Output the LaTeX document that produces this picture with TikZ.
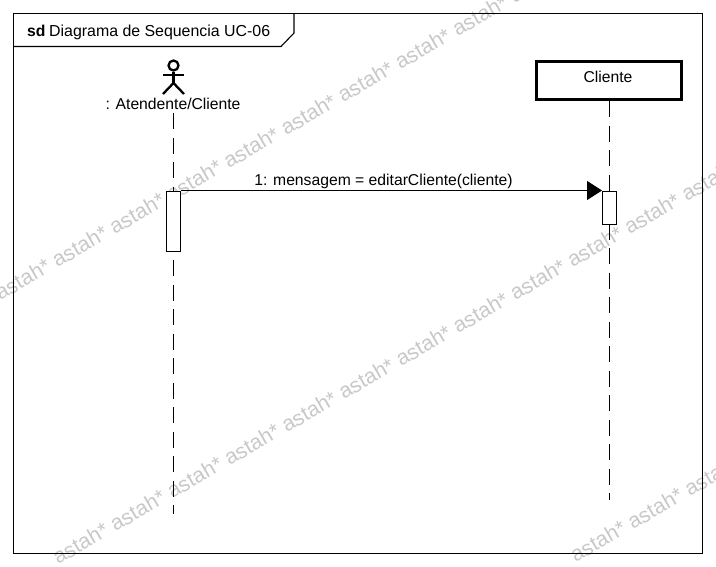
\documentclass[tikz,border=0pt]{standalone}
\usepackage{xcolor}
\usepackage{fontspec}
\setmainfont{Liberation Sans}
\definecolor{wmgray}{HTML}{C8C8C8}
\usepackage{tikz}
\usetikzlibrary{positioning,arrows.meta}

\newcommand{\wmtext}{astah* astah* astah* astah* astah* astah* astah* astah* astah* astah* astah* astah*}

\begin{document}
\begin{tikzpicture}[x=1pt,y=-1pt,
  frame/.style={draw=black,line width=1.1pt,inner sep=0pt,minimum width=689pt,minimum height=540pt},
  wmark/.style={text=wmgray,font=\fontsize{21.2}{22}\selectfont,rotate=30,inner sep=0pt,anchor=base west},
  lbl/.style={font=\fontsize{15.7}{18}\selectfont,inner sep=0pt},
  objbox/.style={draw=black,line width=3pt,fill=white,minimum width=145pt,minimum height=38pt,inner sep=0pt},
  act/.style={draw=black,line width=1pt,fill=white,minimum width=14pt,inner sep=0pt},
  life/.style={line width=1.2pt,dash pattern=on 16pt off 8.5pt},
  stick/.style={line width=2.3pt},
  msg/.style={-{Triangle[length=15pt,width=19pt]},line width=1.1pt}]
\useasboundingbox (0,0) rectangle (716,566);
% watermark
\node[wmark] (band1) at (-57,334) {\wmtext};
\node[wmark] (band2) at (58,565) {\wmtext};
\node[wmark] (band3) at (575.5,563) {astah* astah* astah*};
% frame
\node[frame] (fr) at (358,283.5) {};
\coordinate (tabtop) at (294,13.5);
\coordinate (tabmid) at (294,33);
\coordinate (tabcut) at (281,46.5);
\coordinate (tableft) at (13.5,46.5);
\draw[line width=1.1pt] (tabtop) -- (tabmid) -- (tabcut) -- (tableft);
\node[lbl,anchor=base west] (sd) at (27,36) {\textbf{sd}};
\node[lbl,anchor=base west,font=\fontsize{15.9}{18}\selectfont] (title) at (49,36) {Diagrama de Sequencia UC-06};
% lifelines
\node[circle,draw=black,line width=2.3pt,minimum size=10pt,inner sep=0pt] (head) at (173.5,65.5) {};
\node[lbl] (user) at (173,104) {: Atendente/Cliente};
\node[objbox] (cli) at (609,80.5) {};
\node[lbl] (clitxt) at (608,76.5) {Cliente};
\coordinate (armL) at (163,75);
\coordinate (armR) at (184,75);
\coordinate (hip) at (173.5,83);
\coordinate (legL) at (163,94);
\coordinate (legR) at (184,94);
\draw[stick] (head) -- (hip);
\draw[stick] (armL) -- (armR);
\draw[stick] (legL) -- (hip) -- (legR);
\coordinate (userstart) at (173.5,113);
\coordinate (userend) at (173.5,514);
\coordinate (cliend) at (609.5,500);
\draw[life] (userstart) -- (userend);
\draw[life] (cli.south -| cliend) -- (cliend);
% activations
\node[act,minimum height=60pt] (act1) at (173.5,221) {};
\node[act,minimum height=33pt] (act2) at (609.5,207.5) {};
\draw[msg] (act1.north east) -- (act2.north west);
\node[lbl] (msglbl) at (383.5,181.5) {1: mensagem = editarCliente(cliente)};
\end{tikzpicture}
\end{document}
